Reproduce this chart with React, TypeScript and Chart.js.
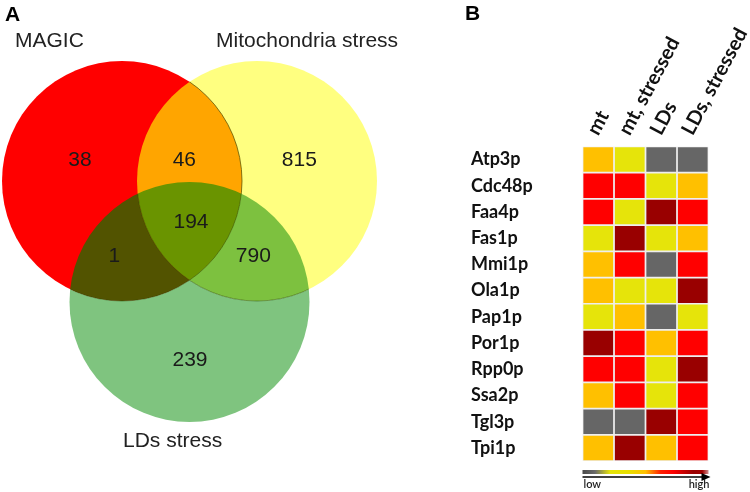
import React, { useEffect, useRef } from 'react';
import { Chart, registerables } from 'chart.js';

Chart.register(...registerables);

// ---------- Venn data ----------
const setNames = ['MAGIC', 'Mitochondria stress', 'LDs stress'];
const regionCounts = [38, 46, 815, 1, 194, 790, 239];
// which sets each region belongs to (0 = MAGIC, 1 = Mito, 2 = LDs)
const regionSets = [[0], [0, 1], [1], [0, 2], [0, 1, 2], [1, 2], [2]];

// ---------- Heatmap data ----------
const proteins = ['Atp3p', 'Cdc48p', 'Faa4p', 'Fas1p', 'Mmi1p', 'Ola1p', 'Pap1p', 'Por1p', 'Rpp0p', 'Ssa2p', 'Tgl3p', 'Tpi1p'];
const conditions = ['mt', 'mt, stressed', 'LDs', 'LDs, stressed'];
// levels: 0 = absent/low (grey), 1 = yellow, 2 = orange, 3 = red, 4 = dark red (high)
const levelMt = [2, 3, 3, 1, 2, 2, 1, 4, 3, 2, 0, 2];
const levelMtStressed = [1, 3, 1, 4, 3, 1, 2, 3, 3, 3, 0, 4];
const levelLDs = [0, 1, 4, 1, 0, 1, 0, 2, 1, 1, 4, 2];
const levelLDsStressed = [0, 2, 3, 2, 3, 4, 1, 3, 4, 3, 3, 3];
const levelsByCondition = [levelMt, levelMtStressed, levelLDs, levelLDsStressed];
const scaleEnds = ['low', 'high'];

// ---------- layout / style constants ----------
const VENN_CENTERS = [
  { x: -0.5625, y: 0.504 },
  { x: 0.5625, y: 0.504 },
  { x: 0, y: -0.504 },
];
const REGION_TEXT_POS = [
  { x: -0.9125, y: 0.679 },
  { x: -0.043, y: 0.679 },
  { x: 0.915, y: 0.679 },
  { x: -0.627, y: -0.121 },
  { x: 0.0125, y: 0.157 },
  { x: 0.532, y: -0.121 },
  { x: 0.004, y: -0.9875 },
];
const SETNAME_POS = [
  { x: -1.454, y: 1.621 },
  { x: 0.221, y: 1.621 },
  { x: -0.554, y: -1.7125 },
];
const REGION_COLORS: Record<string, string> = {
  '0': '#FF0000',
  '1': '#FFFF80',
  '0,1': '#FFA500',
  '2': '#7FC47F',
  '0,2': '#525300',
  '1,2': '#7DC13F',
  '0,1,2': '#6A9400',
};
const LEVEL_COLORS = ['#666666', '#E6E40A', '#FFC000', '#FF0000', '#990000'];
const ARIAL = '"Liberation Sans", Arial, sans-serif';
const CAL = 'Lato, "Open Sans", sans-serif';

function unitRadius(ctx: any) {
  const s = ctx.chart.scales.x;
  if (!s) return 0;
  const v = Math.abs(s.getPixelForValue(1) - s.getPixelForValue(0));
  return isFinite(v) && v > 0 ? v : 0;
}

const vennPlugin = {
  id: 'vennRegions',
  beforeDatasetDraw(chart: any, args: any) {
    const ctx: CanvasRenderingContext2D = chart.ctx;
    const els = [0, 1, 2].map((i) => chart.getDatasetMeta(i).data[0]);
    const r = unitRadius({ chart });
    const W = chart.width;
    const H = chart.height;
    const circle = (i: number, ccw = false) => {
      ctx.arc(els[i].x, els[i].y, r, 0, Math.PI * 2, ccw);
    };
    const fillRegion = (inside: number[], outside: number[], color: string) => {
      ctx.save();
      for (const i of inside) {
        ctx.beginPath();
        circle(i);
        ctx.clip();
      }
      for (const i of outside) {
        ctx.beginPath();
        ctx.rect(0, 0, W, H);
        ctx.moveTo(els[i].x + r, els[i].y);
        circle(i, true);
        ctx.clip('evenodd');
      }
      ctx.fillStyle = color;
      ctx.fillRect(0, 0, W, H);
      ctx.restore();
    };
    const faintArc = (within: number, arcOf: number[], color: string) => {
      ctx.save();
      ctx.beginPath();
      circle(within);
      ctx.clip();
      ctx.strokeStyle = color;
      ctx.lineWidth = 1;
      for (const i of arcOf) {
        ctx.beginPath();
        circle(i);
        ctx.stroke();
      }
      ctx.restore();
    };
    const idx = args.index;
    const drawn = [0, 1, 2].slice(0, idx + 1);
    regionSets.forEach((sets) => {
      if (!sets.includes(idx)) return;
      if (sets.some((s) => s > idx)) return;
      const outside = drawn.filter((s) => !sets.includes(s));
      fillRegion(sets, outside, REGION_COLORS[sets.join(',')]);
    });
    if (idx === 1) faintArc(1, [0], 'rgba(110,100,0,0.85)');
    if (idx === 2) faintArc(2, [0, 1], 'rgba(40,70,0,0.45)');
  },
  afterDraw(chart: any) {
    const ctx: CanvasRenderingContext2D = chart.ctx;
    const { x, y } = chart.scales;
    ctx.save();
    ctx.fillStyle = '#1a1a1a';
    ctx.font = `21px ${ARIAL}`;
    ctx.textAlign = 'center';
    ctx.textBaseline = 'middle';
    regionCounts.forEach((n, i) => {
      const p = REGION_TEXT_POS[i];
      ctx.fillText(String(n), x.getPixelForValue(p.x), y.getPixelForValue(p.y));
    });
    ctx.textAlign = 'left';
    ctx.textBaseline = 'alphabetic';
    ctx.fillStyle = '#222';
    setNames.forEach((name, i) => {
      const p = SETNAME_POS[i];
      ctx.fillText(name, x.getPixelForValue(p.x), y.getPixelForValue(p.y));
    });
    ctx.fillStyle = '#000';
    ctx.font = `bold 21px ${ARIAL}`;
    ctx.fillText('A', 5, 21);
    ctx.restore();
  },
};

const heatPlugin = {
  id: 'heatDecor',
  afterDraw(chart: any) {
    const ctx: CanvasRenderingContext2D = chart.ctx;
    const a = chart.chartArea;
    const x = chart.scales.x;
    ctx.save();
    // column headers
    ctx.fillStyle = '#111';
    ctx.font = `bold 20px ${CAL}`;
    ctx.textAlign = 'left';
    ctx.textBaseline = 'alphabetic';
    conditions.forEach((c, i) => {
      ctx.save();
      ctx.translate(x.getPixelForValue(i + 0.5), a.top - 10);
      ctx.rotate((-62 * Math.PI) / 180);
      ctx.fillText(c, 0, 0);
      ctx.restore();
    });
    // panel letter
    ctx.fillStyle = '#000';
    ctx.font = `bold 21px ${ARIAL}`;
    ctx.fillText('B', 15, 20);
    // colour bar
    const g = ctx.createLinearGradient(a.left, 0, a.right, 0);
    g.addColorStop(0, '#4a4a4a');
    g.addColorStop(0.1, '#6a6a6a');
    g.addColorStop(0.22, '#e6e40a');
    g.addColorStop(0.36, '#e8e000');
    g.addColorStop(0.5, '#ffc000');
    g.addColorStop(0.62, '#ff2000');
    g.addColorStop(0.72, '#ff0000');
    g.addColorStop(0.88, '#990000');
    g.addColorStop(0.95, '#a00000');
    g.addColorStop(1, '#d09090');
    ctx.fillStyle = g;
    ctx.fillRect(a.left, a.bottom + 9, a.right - a.left, 4);
    // arrow
    const ay = a.bottom + 16;
    ctx.strokeStyle = '#000';
    ctx.lineWidth = 1.5;
    ctx.beginPath();
    ctx.moveTo(a.left, ay);
    ctx.lineTo(a.right - 4, ay);
    ctx.stroke();
    ctx.fillStyle = '#000';
    ctx.beginPath();
    ctx.moveTo(a.right + 2, ay);
    ctx.lineTo(a.right - 7, ay - 4);
    ctx.lineTo(a.right - 7, ay + 4);
    ctx.closePath();
    ctx.fill();
    // low / high
    ctx.fillStyle = '#222';
    ctx.font = `600 11px ${CAL}`;
    ctx.textAlign = 'left';
    ctx.fillText(scaleEnds[0], a.left + 1, a.bottom + 27);
    ctx.textAlign = 'right';
    ctx.fillText(scaleEnds[1], a.right + 1, a.bottom + 27);
    ctx.restore();
  },
};

export default function App() {
  const vennRef = useRef<HTMLCanvasElement>(null);
  const heatRef = useRef<HTMLCanvasElement>(null);

  useEffect(() => {
    const venn = new Chart(vennRef.current!, {
      type: 'bubble',
      data: {
        datasets: VENN_CENTERS.map((c, i) => ({
          label: setNames[i],
          data: [{ x: c.x, y: c.y }],
          order: 3 - i,
          backgroundColor: 'rgba(0,0,0,0)',
          borderColor: '#1a1a1a',
          borderWidth: 1,
          radius: unitRadius,
        })) as any,
      },
      options: {
        responsive: false,
        animation: false,
        events: [],
        layout: { padding: 0, autoPadding: false },
        scales: {
          x: { type: 'linear', min: -1.5792, max: 2.1708, display: false },
          y: { type: 'linear', min: -2.0875, max: 2.0125, display: false },
        },
        plugins: { legend: { display: false }, tooltip: { enabled: false } },
      } as any,
      plugins: [vennPlugin],
    });

    const heat = new Chart(heatRef.current!, {
      type: 'bar',
      data: {
        labels: proteins,
        datasets: conditions.map((cond, c) => ({
          label: cond,
          data: proteins.map(() => [c, c + 1]),
          backgroundColor: (ctx: any) => LEVEL_COLORS[levelsByCondition[c][ctx.dataIndex]],
          borderColor: '#eeeeee',
          borderWidth: 1.2,
          borderSkipped: false,
          grouped: false,
          barPercentage: 1,
          categoryPercentage: 1,
        })) as any,
      },
      options: {
        indexAxis: 'y',
        responsive: false,
        animation: false,
        events: [],
        layout: { padding: { left: 21, right: 41.5, top: 146.5, bottom: 31 } },
        scales: {
          x: { type: 'linear', min: 0, max: 4, display: false },
          y: {
            type: 'category',
            grid: { display: false },
            border: { display: false },
            ticks: {
              crossAlign: 'far',
              color: '#111',
              font: { family: CAL, weight: 'bold', size: 18 },
              padding: 0,
            },
            afterFit: (scale: any) => {
              scale.width = 111.5;
            },
          },
        },
        plugins: { legend: { display: false }, tooltip: { enabled: false } },
      } as any,
      plugins: [heatPlugin],
    });

    return () => {
      venn.destroy();
      heat.destroy();
    };
  }, []);

  return (
    <div style={{ position: 'fixed', left: 0, top: 0, width: 750, height: 492, background: '#fff' }}>
      <canvas ref={vennRef} width={450} height={492} style={{ position: 'absolute', left: 0, top: 0 }} />
      <canvas ref={heatRef} width={300} height={492} style={{ position: 'absolute', left: 450, top: 0 }} />
    </div>
  );
}
